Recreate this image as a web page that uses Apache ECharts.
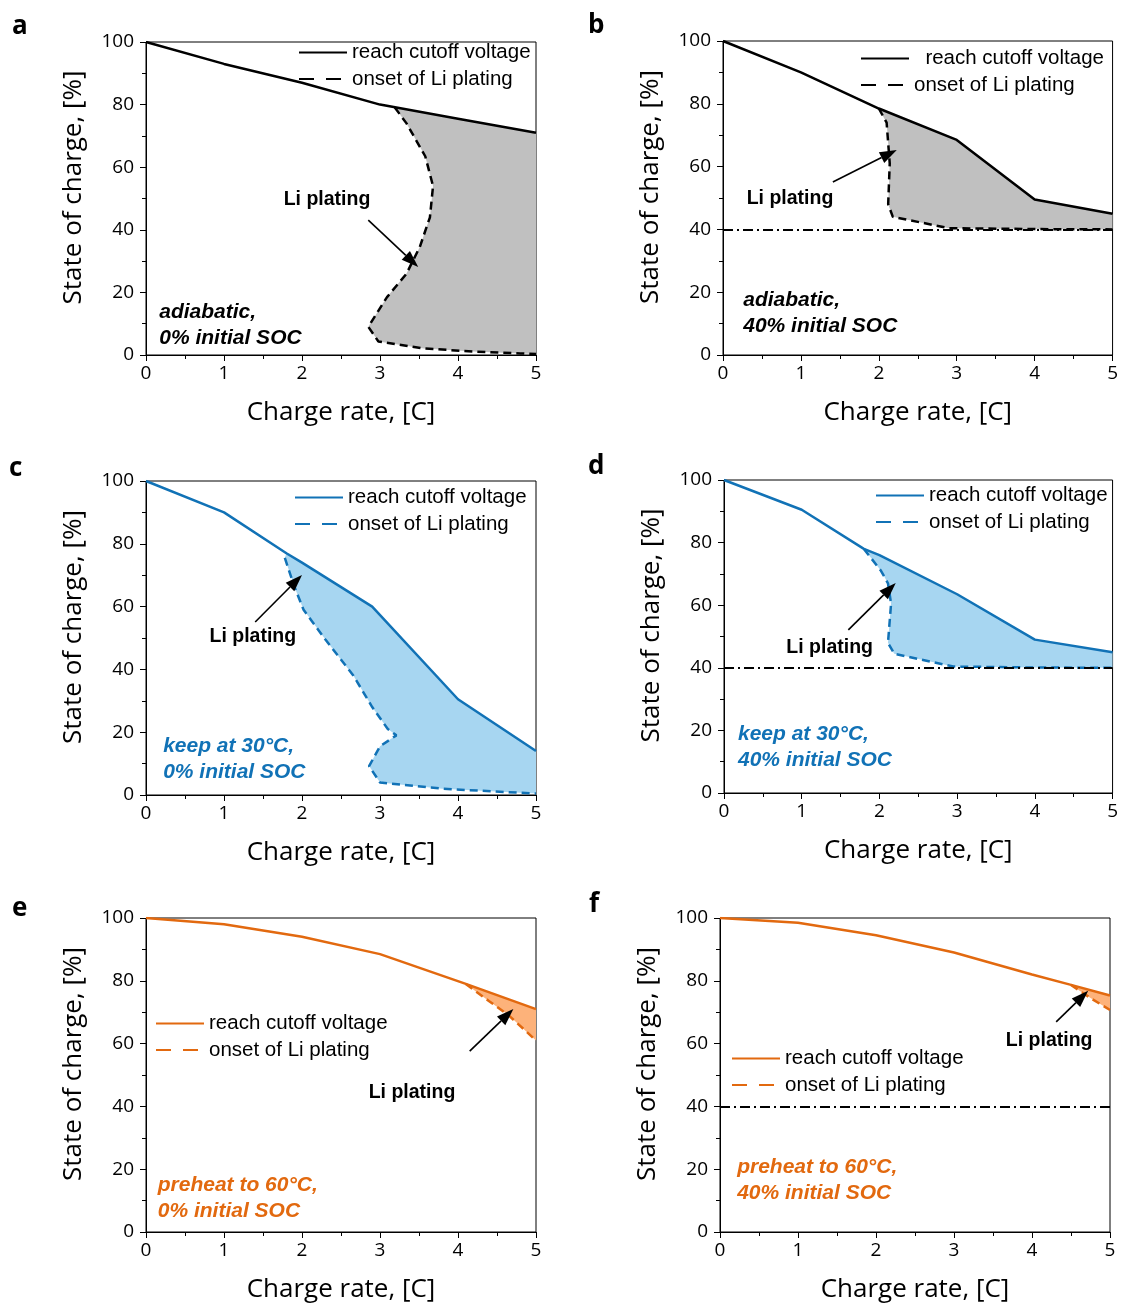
<!DOCTYPE html>
<html>
<head>
<meta charset="utf-8">
<script src="https://cdn.jsdelivr.net/npm/echarts@6/dist/echarts.min.js"></script>
<style>
html,body{margin:0;padding:0;background:#fff;}
#chart{width:1121px;height:1307px;}
</style>
</head>
<body>
<div id="chart"></div>
<script>
// ---------- data (charge rate [C], state of charge [%]) ----------
const aCutoff = [[0,100],[1,93],[2,87],[3,80],[4,75.5],[5,71]];
const aPlating = [[3.19,79.1],[3.34,74],[3.58,63.5],[3.68,54],[3.64,44],[3.51,34.5],[3.34,26],[3.09,18.5],[2.85,9],[2.98,4.3],[3.56,2.1],[4.2,1.1],[4.8,0.5],[5,0.3]];

const bCutoff = [[0,100],[1,90],[2,78.5],[3,68.5],[4,49.5],[5,45]];
const bPlating = [[2,78.5],[2.1,74],[2.14,61],[2.12,48],[2.18,44],[2.9,40.4],[4,40.1],[5,40]];

const cCutoff = [[0,100],[1,90],[1.8,77],[2,74],[2.9,60],[4,30.5],[5,14]];
const cPlating = [[1.78,75.5],[1.9,66.5],[2.02,59],[2.3,49.5],[2.66,38],[2.9,28],[3.1,21],[3.21,19],[3.0,15.5],[2.86,9.2],[3.0,4],[3.8,2],[4.8,0.7],[5,0.5]];

const dCutoff = [[0,100],[1,90.5],[1.8,78],[2,76],[3,63.5],[4,49],[5,45]];
const dPlating = [[1.8,78],[2.02,71],[2.11,67],[2.15,60.5],[2.11,48],[2.19,44.5],[2.95,40.4],[4,40.1],[5,40]];

const eCutoff = [[0,100],[1,98],[2,94],[3,88.5],[4.1,79],[5,71]];
const ePlating = [[4.1,79],[4.4,73.5],[4.65,69],[5,61]];

const fCutoff = [[0,100],[1,98.5],[2,94.5],[3,89],[4,82],[4.5,78.7],[5,75.3]];
const fPlating = [[4.5,78.7],[4.75,74.5],[5,70.7]];

const initialSOC40 = 40;   // dash-dot reference for the 40% initial SOC panels

const panelLetters = ['a','b','c','d','e','f'];
const conditionTexts = [
  ['adiabatic,','0% initial SOC'],
  ['adiabatic,','40% initial SOC'],
  ['keep at 30°C,','0% initial SOC'],
  ['keep at 30°C,','40% initial SOC'],
  ['preheat to 60°C,','0% initial SOC'],
  ['preheat to 60°C,','40% initial SOC']
];
const annotationLabel = 'Li plating';
const legendLabels = ['reach cutoff voltage','onset of Li plating'];
const xAxisTitle = 'Charge rate, [C]';
const yAxisTitle = 'State of charge, [%]';

// annotation anchors in data units: label centre, arrow tail, arrow tip
const labelAnchors = [[2.32,49.5],[0.86,49.7],[1.37,50.3],[1.36,46.3],[3.41,44.3],[4.22,60.8]];
const arrowTails  = [[2.85,43.1],[1.41,55.1],[1.40,55.1],[1.60,52.1],[4.15,57.6],[4.31,66.9]];
const arrowTips   = [[3.49,28.1],[2.23,65.3],[2.00,70.1],[2.21,67.1],[4.71,71.0],[4.72,76.8]];
const conditionAnchors = [[0.17,9.6],[0.26,13.2],[0.22,11.5],[0.18,14.7],[0.15,10.8],[0.22,16.4]];

// ---------- layout / style ----------
const cutoffSets = [aCutoff,bCutoff,cCutoff,dCutoff,eCutoff,fCutoff];
const platingSets = [aPlating,bPlating,cPlating,dPlating,ePlating,fPlating];
const has40Line = [false,true,false,true,false,true];

const BLACK = '#000000', BLUE = '#1172b6', ORANGE = '#e2690f';
const lineColors = [BLACK,BLACK,BLUE,BLUE,ORANGE,ORANGE];
const fillColors = ['#c0c0c0','#c0c0c0','#a7d6f1','#a7d6f1','#fdb27a','#fdb27a'];
const condColors = [BLACK,BLACK,BLUE,BLUE,ORANGE,ORANGE];

const grids = [
  {left:146, top:42, width:390, height:313},
  {left:723, top:41, width:390, height:314},
  {left:146, top:481, width:390, height:314},
  {left:724, top:480, width:390, height:313},
  {left:146, top:918, width:390, height:314},
  {left:720, top:918, width:390, height:314}
];
const legendPos = [
  {left:298, top:42},
  {left:860, top:48},
  {left:294, top:487},
  {left:875, top:485},
  {left:155, top:1013},
  {left:731, top:1048}
];
const legendFirstPad = ['', '  ', '', '', '', ''];
const letterPos = [[12,14],[588,13],[9,456],[588,454],[12,896],[589,892]];

const TICK_FONT = '"Open Sans", "Noto Sans", sans-serif';
const TEXT_FONT = '"Liberation Sans", Arial, sans-serif';

const chart = echarts.init(document.getElementById('chart'), null, {renderer:'canvas'});

const xAxes = [], yAxes = [], series = [], legends = [], graphics = [];

grids.forEach((g, i) => {
  g.show = true; g.borderColor = '#000'; g.borderWidth = 1; g.backgroundColor = 'transparent';
  xAxes.push({
    type:'value', gridIndex:i, min:0, max:5, interval:1,
    name: xAxisTitle, nameLocation:'middle', nameGap:45,
    nameTextStyle:{fontFamily:TICK_FONT, fontSize:26, color:'#000'},
    axisLine:{show:true, onZero:false, lineStyle:{color:'#000', width:1}},
    axisTick:{show:true, inside:false, length:6, lineStyle:{color:'#000'}},
    minorTick:{show:true, splitNumber:2, length:4, lineStyle:{color:'#000'}},
    splitLine:{show:false},
    axisLabel:{color:'#000', fontFamily:TICK_FONT, fontSize:19, margin:9}
  });
  yAxes.push({
    type:'value', gridIndex:i, min:0, max:100, interval:20,
    name: yAxisTitle, nameLocation:'middle', nameGap:59,
    nameTextStyle:{fontFamily:TICK_FONT, fontSize:26, color:'#000', padding:[0,0,0,22]},
    axisLine:{show:true, onZero:false, lineStyle:{color:'#000', width:1}},
    axisTick:{show:true, inside:false, length:6, lineStyle:{color:'#000'}},
    minorTick:{show:true, splitNumber:2, length:4, lineStyle:{color:'#000'}},
    splitLine:{show:false},
    axisLabel:{color:'#000', fontFamily:TICK_FONT, fontSize:19, margin:12}
  });

  const key = panelLetters[i];
  const cutoff = cutoffSets[i], plating = platingSets[i];
  const startX = plating[0][0];
  const poly = plating.concat(cutoff.filter(p => p[0] > startX).slice().reverse());

  // shaded Li plating region
  series.push({
    type:'custom', name:key+'-fill', xAxisIndex:i, yAxisIndex:i, silent:true, z:1,
    data: poly,
    renderItem: (params, api) => {
      if (params.dataIndex !== 0) return;
      return {type:'polygon', shape:{points: poly.map(p => api.coord(p))}, style:{fill: fillColors[i]}};
    }
  });

  // dash-dot 40% line
  if (has40Line[i]) {
    series.push({
      type:'line', name:key+'-ref', xAxisIndex:i, yAxisIndex:i, silent:true, z:3,
      data:[], symbol:'none',
      markLine:{silent:true, symbol:['none','none'], label:{show:false},
        lineStyle:{color:'#000', width:1.8, type:[10,4,2,4]},
        data:[{yAxis: initialSOC40}]}
    });
  }

  series.push({
    type:'line', name:key+'-solid', xAxisIndex:i, yAxisIndex:i, z:5,
    data: cutoff, symbol:'none', showSymbol:false,
    lineStyle:{color: lineColors[i], width:2.5, type:'solid'},
    itemStyle:{color: lineColors[i]}
  });
  series.push({
    type:'line', name:key+'-dash', xAxisIndex:i, yAxisIndex:i, z:4,
    data: plating, symbol:'none', showSymbol:false,
    lineStyle:{color: lineColors[i], width:2.5, type:[8,5]},
    itemStyle:{color: lineColors[i]}
  });

  // annotations: arrow + "Li plating" + condition text
  series.push({
    type:'custom', name:key+'-annot', xAxisIndex:i, yAxisIndex:i, silent:true, z:10,
    data:[labelAnchors[i]],
    renderItem: (params, api) => {
      const t = api.coord(arrowTails[i]);
      const h = api.coord(arrowTips[i]);
      const dx = h[0]-t[0], dy = h[1]-t[1];
      const len = Math.sqrt(dx*dx+dy*dy);
      const ux = dx/len, uy = dy/len;
      const headL = 17, headW = 6;
      const bx = h[0]-ux*headL, by = h[1]-uy*headL;
      const lbl = api.coord(labelAnchors[i]);
      const cond = api.coord(conditionAnchors[i]);
      return {type:'group', children:[
        {type:'line', shape:{x1:t[0], y1:t[1], x2:bx, y2:by}, style:{stroke:'#000', lineWidth:1.6}},
        {type:'polygon', shape:{points:[[h[0],h[1]],[bx-uy*headW, by+ux*headW],[bx+uy*headW, by-ux*headW]]}, style:{fill:'#000'}},
        {type:'text', x:lbl[0], y:lbl[1], style:{text:annotationLabel, fill:'#000',
          font:'bold 19.5px '+TEXT_FONT, align:'center', verticalAlign:'middle'}},
        {type:'text', x:cond[0], y:cond[1], style:{text:conditionTexts[i].join('\n'), fill:condColors[i],
          font:'italic bold 21px '+TEXT_FONT, align:'left', verticalAlign:'middle', lineHeight:26}}
      ]};
    }
  });

  legends.push({
    show:true, orient:'vertical', left:legendPos[i].left, top:legendPos[i].top,
    data:[
      {name:key+'-solid'},
      {name:key+'-dash', lineStyle:{type:[15,12]}}
    ],
    selectedMode:false,
    itemWidth:48, itemHeight:14, itemGap:5.5, padding:0,
    itemStyle:{opacity:0},
    textStyle:{fontFamily:TEXT_FONT, fontSize:20.5, color:'#000'},
    formatter: n => n.endsWith('solid') ? legendFirstPad[i] + legendLabels[0] : legendLabels[1]
  });

  graphics.push({
    type:'text', left:letterPos[i][0], top:letterPos[i][1],
    style:{text:key, font:'bold 26px "Open Sans", "Liberation Sans", sans-serif', fill:'#000'}
  });
});

chart.setOption({
  animation:false,
  backgroundColor:'#fff',
  grid: grids,
  xAxis: xAxes,
  yAxis: yAxes,
  legend: legends,
  graphic: graphics,
  series: series
});
</script>
</body>
</html>
